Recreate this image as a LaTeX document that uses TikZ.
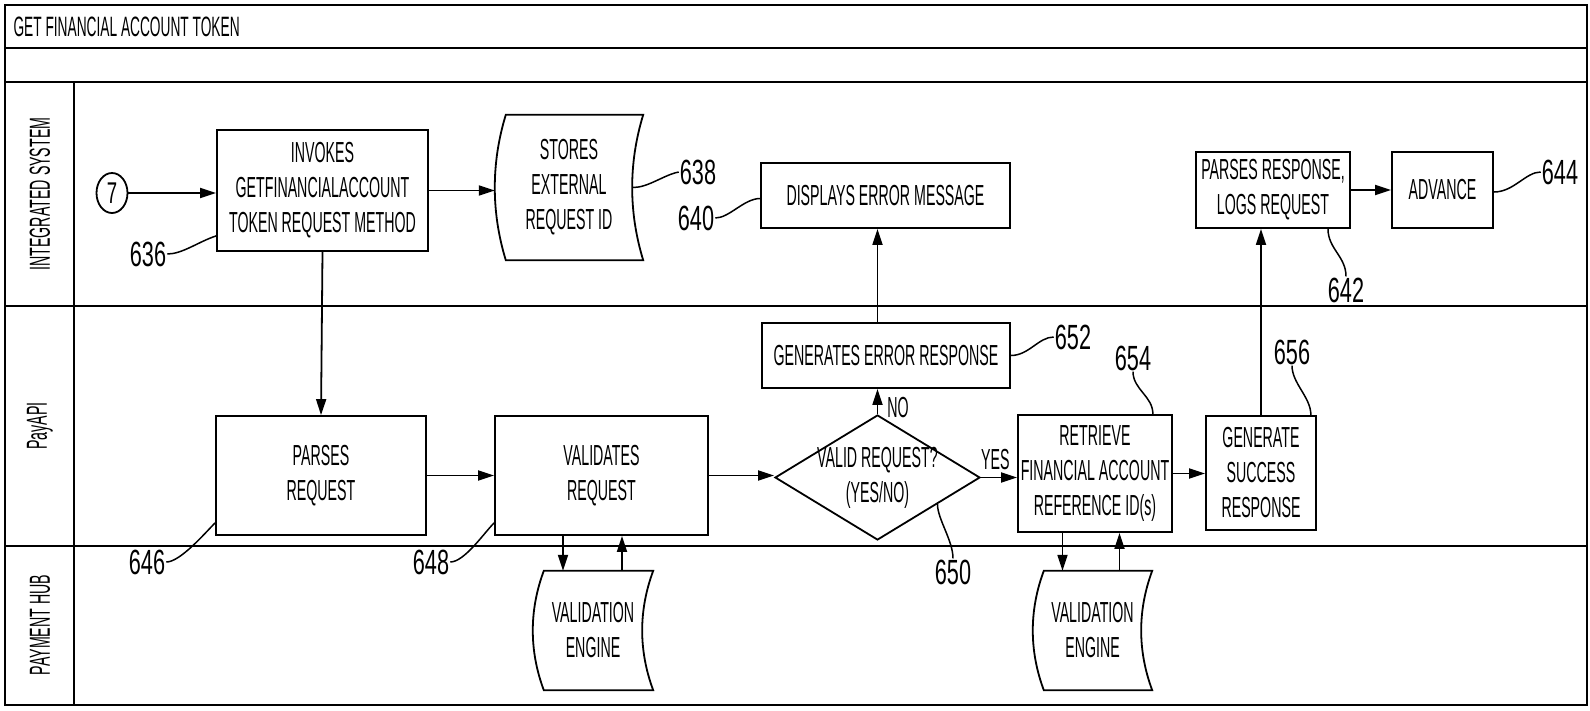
\documentclass[tikz,border=0pt]{standalone}
\usepackage{fontspec}
\setmainfont{Liberation Sans}[FakeStretch=0.49]
\newfontfamily\numeros{Liberation Sans}[FakeStretch=0.62]
\usepackage{tikz}
\usetikzlibrary{arrows.meta,shapes.geometric,calc}
\tikzset{
  caja/.style={draw,line width=1.8pt,align=center,inner sep=2pt,font=\fontsize{29}{35}\selectfont},
  datos/.style={align=center,inner sep=2pt,font=\fontsize{29}{35}\selectfont},
  decision/.style={diamond,draw,line width=1.8pt,inner sep=0pt},
  flecha/.style={-{Triangle[length=16pt,width=10pt]},line width=1.8pt},
  guia/.style={line width=1.5pt},
  numref/.style={font=\numeros\fontsize{35}{40}\selectfont,inner sep=1pt},
  carril/.style={rotate=90,font=\fontsize{29}{35}\selectfont},
  marco/.style={line width=2pt}
}
% borde curvo de los nodos de datos
\newcommand{\contornodatos}[1]{%
  \draw[line width=1.8pt] ([xshift=11pt]#1.north west) -- (#1.north east)
    .. controls ($(#1.north east)!0.33!(#1.south east)+(-14.7pt,0pt)$) and ($(#1.north east)!0.67!(#1.south east)+(-14.7pt,0pt)$) .. (#1.south east)
    -- ([xshift=11pt]#1.south west)
    .. controls ($(#1.south west)!0.33!(#1.north west)+(-3.7pt,0pt)$) and ($(#1.south west)!0.67!(#1.north west)+(-3.7pt,0pt)$) .. ([xshift=11pt]#1.north west) -- cycle;}

\begin{document}
\begin{tikzpicture}[x=1pt,y=-1pt]
\useasboundingbox (0,0) rectangle (1590,710);
% marco y carriles
\draw[marco] (5,5) rectangle (1587,705);
\foreach \y in {48,82,306,546} \draw[marco] (5,\y) -- (1587,\y);
\draw[marco] (74,82) -- (74,705);
\node[anchor=west,font=\fontsize{28}{32}\selectfont] (titulo) at (10,27) {GET FINANCIAL ACCOUNT TOKEN};
\node[carril] (l1) at (40,194) {INTEGRATED SYSTEM};
\node[carril] (l2) at (40,426) {PayAPI};
\node[carril] (l3) at (40,625) {PAYMENT HUB};

% INTEGRATED SYSTEM
\node[draw,ellipse,minimum width=31pt,minimum height=40pt,inner sep=0pt,line width=1.8pt,font=\numeros\fontsize{30}{30}\selectfont] (c7) at (112,193) {7};
\node[caja,minimum width=211pt,minimum height=121pt] (n636) at (322.5,190.5) {INVOKES\\GETFINANCIALACCOUNT\\TOKEN REQUEST METHOD};
\node[datos,minimum width=148pt,minimum height=145pt] (n638) at (569,187.5) {STORES\\EXTERNAL\\REQUEST ID};
\contornodatos{n638}
\node[caja,minimum width=249pt,minimum height=65pt] (n640) at (885.5,195.5) {DISPLAYS ERROR MESSAGE};
\node[caja,minimum width=154pt,minimum height=76pt] (n642) at (1273,190) {PARSES RESPONSE,\\LOGS REQUEST};
\node[caja,minimum width=101pt,minimum height=76pt] (n644) at (1442.5,190) {ADVANCE};

% PayAPI
\node[caja,minimum width=210pt,minimum height=119pt] (n646) at (321,475.5) {PARSES\\REQUEST};
\node[caja,minimum width=213pt,minimum height=119pt] (n648) at (601.5,475.5) {VALIDATES\\REQUEST};
\node[decision,minimum width=205pt,minimum height=125pt,
  label={[align=center,font=\fontsize{29}{35}\selectfont]center:VALID REQUEST?\\(YES/NO)}] (n650) at (877.5,477.5) {};
\node[caja,minimum width=248pt,minimum height=65pt] (n652) at (886,355.5) {GENERATES ERROR RESPONSE};
\node[caja,minimum width=154pt,minimum height=117pt] (n654) at (1095,473.5) {RETRIEVE\\FINANCIAL ACCOUNT\\REFERENCE ID(s)};
\node[caja,minimum width=110pt,minimum height=114pt] (n656) at (1261,473) {GENERATE\\SUCCESS\\RESPONSE};

% PAYMENT HUB
\node[datos,minimum width=120pt,minimum height=119pt] (nve1) at (593,630.5) {VALIDATION\\ENGINE};
\contornodatos{nve1}
\node[datos,minimum width=119pt,minimum height=119pt] (nve2) at (1092.5,630.5) {VALIDATION\\ENGINE};
\contornodatos{nve2}

% flechas
\draw[flecha] (c7.east) -- (c7.east -| n636.west);
\draw[flecha] (n636.east) -- (n636.east -| n638.west);
\draw[flecha] (n636.south) -- (n646.north);
\draw[flecha] (n642.east) -- (n642.east -| n644.west);
\draw[flecha] (n646.east) -- (n646.east -| n648.west);
\draw[flecha] (n648.east) -- (n648.east -| n650.west);
\draw[flecha] (n650.east) -- (n650.east -| n654.west) node[pos=0.4,above,yshift=6pt,font=\fontsize{29}{35}\selectfont,inner sep=1pt] (si) {YES};
\draw[flecha] (n650.north) -- (n650.north |- n652.south) node[anchor=north west,xshift=8pt,yshift=-6pt,font=\fontsize{29}{35}\selectfont,inner sep=1pt] (no) {NO};
\draw[flecha] (n650.north |- n652.north) -- (n650.north |- n640.south);
\draw[flecha] (n654.east) -- (n654.east -| n656.west);
\draw[flecha] (n656.north) -- (n656.north |- n642.south);
\draw[flecha] ([xshift=-30pt]nve1.north |- n648.south) -- ([xshift=-30pt]nve1.north);
\draw[flecha] ([xshift=29pt]nve1.north) -- ([xshift=29pt]nve1.north |- n648.south);
\draw[flecha] ([xshift=-30pt]nve2.north |- n654.south) -- ([xshift=-30pt]nve2.north);
\draw[flecha] ([xshift=27pt]nve2.north) -- ([xshift=27pt]nve2.north |- n654.south);

% referencias
\node[numref] (r636) at (148,254) {636};
\node[numref] (r638) at (698,172) {638};
\node[numref] (r640) at (696,218) {640};
\node[numref] (r642) at (1346,290) {642};
\node[numref] (r644) at (1560,172) {644};
\node[numref] (r646) at (147,562) {646};
\node[numref] (r648) at (431,562) {648};
\node[numref] (r650) at (953,572) {650};
\node[numref] (r652) at (1073,337) {652};
\node[numref] (r654) at (1133,358) {654};
\node[numref] (r656) at (1292,352) {656};
\draw[guia] (r636.east) .. controls +(15,0) and +(-18,6) .. ([yshift=16pt]n636.south west);
\draw[guia] ([xshift=-10pt]n638.east) .. controls +(15,0) and +(-15,3) .. (r638.west);
\draw[guia] (r640.east) .. controls +(14,0) and +(-16,0) .. ([yshift=-3pt]n640.west);
\draw[guia] ([xshift=55pt]n642.south) .. controls +(0,20) and +(0,-20) .. (r642.north);
\draw[guia] ([yshift=-2pt]n644.east) .. controls +(20,0) and +(-15,0) .. (r644.west);
\draw[guia] (r646.east) .. controls +(14,0) and +(-10,10) .. ([yshift=13pt]n646.south west);
\draw[guia] (r648.east) .. controls +(14,0) and +(-10,10) .. ([yshift=13pt]n648.south west);
\draw[guia] ($(n650.east)!0.42!(n650.south)$) .. controls +(0,15) and +(0,-18) .. (r650.north);
\draw[guia] (n652.east) .. controls +(18,0) and +(-15,0) .. (r652.west);
\draw[guia] (r654.south) .. controls +(0,18) and +(0,-18) .. ([xshift=-20pt]n654.north east);
\draw[guia] (r656.south) .. controls +(0,18) and +(0,-18) .. ([xshift=-6pt]n656.north east);
\end{tikzpicture}
\end{document}
